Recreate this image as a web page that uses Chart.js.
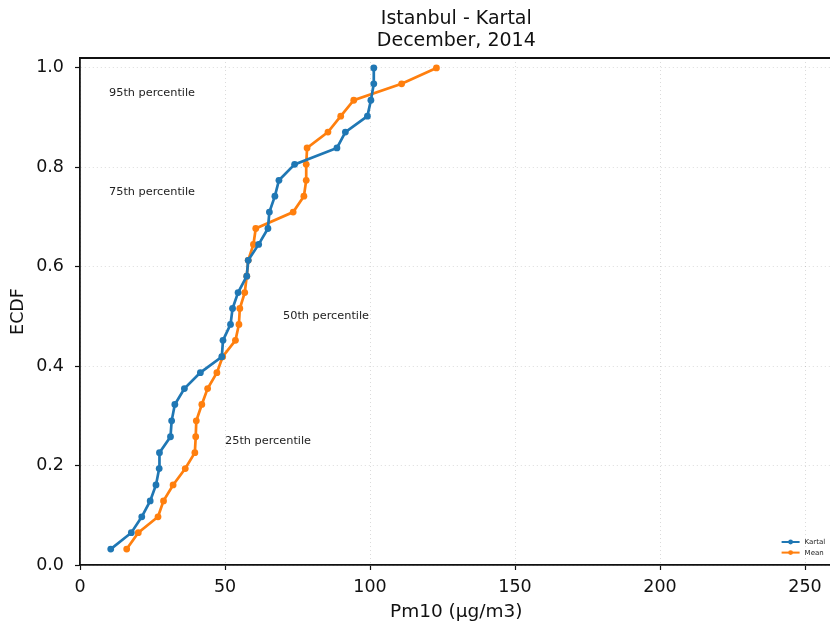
<!DOCTYPE html>
<html>
<head>
<meta charset="utf-8">
<script src="https://cdn.jsdelivr.net/npm/chart.js@4/dist/chart.umd.min.js"></script>
<style>
  html, body { margin: 0; padding: 0; background: #fff; overflow: hidden; }
  #wrap { width: 830px; height: 624px; overflow: hidden; position: relative; }
  canvas { display: block; }
</style>
</head>
<body>
<div id="wrap"><canvas id="ecdf" width="836" height="624"></canvas></div>
<script>
// Chart text
const TITLE_LINES = ['Istanbul - Kartal', 'December, 2014'];
const X_LABEL = 'Pm10 (µg/m3)';
const Y_LABEL = 'ECDF';
const SERIES_NAMES = ['Kartal', 'Mean'];

// Cumulative fraction of the 31 December days
const ECDF_LEVELS = [0.032, 0.065, 0.097, 0.129, 0.161, 0.194, 0.226, 0.258, 0.290, 0.323,
                     0.355, 0.387, 0.419, 0.452, 0.484, 0.516, 0.548, 0.581, 0.613, 0.645,
                     0.677, 0.710, 0.742, 0.774, 0.806, 0.839, 0.871, 0.903, 0.935, 0.968, 1.000];

// Daily Pm10 values, sorted ascending
const KARTAL_PM10 = [10.6, 17.7, 21.3, 24.2, 26.2, 27.3, 27.4, 31.2, 31.6, 32.7,
                     36.0, 41.5, 48.9, 49.3, 51.9, 52.6, 54.5, 57.5, 58.0, 61.6,
                     64.8, 65.3, 67.2, 68.6, 74.0, 88.6, 91.5, 99.1, 100.3, 101.3, 101.3];
const MEAN_PM10   = [16.1, 20.1, 26.9, 28.8, 32.1, 36.3, 39.6, 39.9, 40.1, 42.0,
                     44.0, 47.2, 49.2, 53.6, 54.8, 55.1, 56.8, 57.5, 58.0, 59.8,
                     60.6, 73.5, 77.2, 78.0, 78.0, 78.3, 85.5, 89.9, 94.4, 110.9, 122.9];

// Axis ticks
const X_TICKS = [0, 50, 100, 150, 200, 250];
const Y_TICKS = [0.0, 0.2, 0.4, 0.6, 0.8, 1.0];

// Percentile notes placed in data coordinates
const NOTE_TEXTS = ['95th percentile', '75th percentile', '50th percentile', '25th percentile'];
const NOTE_X = [10, 10, 70, 50];
const NOTE_Y = [0.95, 0.75, 0.50, 0.25];

const FONT = "'DejaVu Sans', 'Liberation Sans', sans-serif";
const COLORS = ['#1f77b4', '#ff7f0e'];
const INK = '#111';

function series(xs, i) {
  return {
    label: SERIES_NAMES[i],
    data: xs.map((x, k) => ({ x: x, y: ECDF_LEVELS[k] })),
    showLine: true,
    borderColor: COLORS[i],
    backgroundColor: COLORS[i],
    borderWidth: 2.7,
    pointRadius: 3.4,
    pointBorderWidth: 0,
    pointHoverRadius: 3.4,
    tension: 0,
    clip: false
  };
}

// Title, top spine, percentile notes and legend
const decorations = {
  id: 'decorations',
  afterDatasetsDraw(chart) {
    const { ctx, chartArea: a, scales } = chart;
    ctx.save();
    // percentile notes
    ctx.fillStyle = '#222';
    ctx.font = '11.3px ' + FONT;
    ctx.textAlign = 'left';
    ctx.textBaseline = 'alphabetic';
    NOTE_TEXTS.forEach((t, i) => {
      ctx.fillText(t, scales.x.getPixelForValue(NOTE_X[i]), scales.y.getPixelForValue(NOTE_Y[i]) + 3);
    });
    // legend, lower right
    const lx = a.right - 51;
    chart.data.datasets.forEach((ds, i) => {
      const y = a.bottom - 23 + i * 10.6;
      ctx.strokeStyle = ds.borderColor;
      ctx.lineWidth = 2;
      ctx.beginPath();
      ctx.moveTo(lx, y);
      ctx.lineTo(lx + 18, y);
      ctx.stroke();
      ctx.fillStyle = ds.borderColor;
      ctx.beginPath();
      ctx.arc(lx + 9, y, 2.4, 0, Math.PI * 2);
      ctx.fill();
      ctx.fillStyle = '#222';
      ctx.font = '7px ' + FONT;
      ctx.textBaseline = 'middle';
      ctx.fillText(ds.label, lx + 23, y + 0.5);
    });
    ctx.restore();
  },
  afterDraw(chart) {
    const { ctx, chartArea: a } = chart;
    ctx.save();
    // top spine
    ctx.strokeStyle = INK;
    ctx.lineWidth = 1.8;
    ctx.beginPath();
    ctx.moveTo(a.left - 0.9, a.top);
    ctx.lineTo(a.right, a.top);
    ctx.stroke();
    // two-line title centred over the plot area
    ctx.fillStyle = INK;
    ctx.font = '19px ' + FONT;
    ctx.textAlign = 'center';
    ctx.textBaseline = 'middle';
    const cx = (a.left + a.right) / 2;
    ctx.fillText(TITLE_LINES[0], cx, 19.5);
    ctx.fillText(TITLE_LINES[1], cx, 41.5);
    ctx.restore();
  }
};

const gridCommon = {
  color: 'rgba(0,0,0,0.14)',
  lineWidth: 1,
  drawTicks: true,
  tickLength: 5,
  tickColor: INK,
  tickWidth: 1.2
};

new Chart(document.getElementById('ecdf').getContext('2d'), {
  type: 'scatter',
  data: { datasets: [series(KARTAL_PM10, 0), series(MEAN_PM10, 1)] },
  options: {
    responsive: false,
    animation: false,
    events: [],
    layout: { padding: { top: 58, right: 0, bottom: 0, left: 0 } },
    plugins: { legend: { display: false }, tooltip: { enabled: false }, title: { display: false } },
    scales: {
      x: {
        type: 'linear', position: 'bottom', min: 0, max: 259.5,
        afterBuildTicks: s => { s.ticks = X_TICKS.map(v => ({ value: v })); },
        afterFit: s => { s.height = 59; },
        grid: gridCommon,
        border: { display: true, color: INK, width: 1.8, dash: [1, 3] },
        ticks: { font: { family: FONT, size: 17.5 }, color: INK, padding: 7, maxRotation: 0, callback: v => String(v) },
        title: { display: true, text: X_LABEL, font: { family: FONT, size: 18.5 }, color: INK, padding: { top: 0, bottom: 1 } }
      },
      y: {
        type: 'linear', position: 'left', min: 0, max: 1.02,
        afterBuildTicks: s => { s.ticks = Y_TICKS.map(v => ({ value: v })); },
        afterFit: s => { s.width = 80; },
        grid: gridCommon,
        border: { display: true, color: INK, width: 1.8, dash: [1, 3] },
        ticks: { font: { family: FONT, size: 17.5 }, color: INK, padding: 11, callback: v => Number(v).toFixed(1) },
        title: { display: true, text: Y_LABEL, font: { family: FONT, size: 17.5 }, color: INK, padding: { top: 8, bottom: 0 } }
      }
    }
  },
  plugins: [decorations]
});
</script>
</body>
</html>
